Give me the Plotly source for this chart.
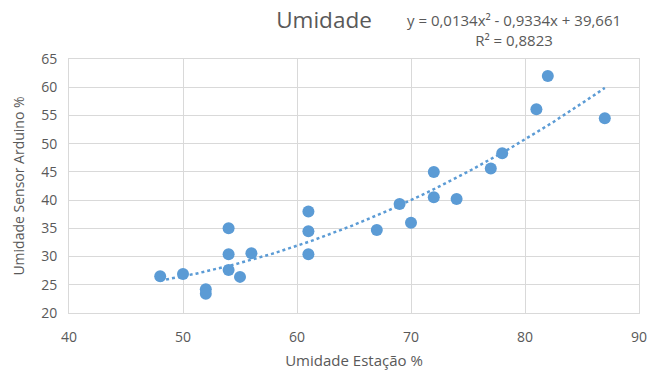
import numpy as np
import plotly.graph_objects as go

estacao = [48, 50, 52, 52, 54, 54, 54, 55, 56, 61, 61, 61, 67, 69, 70, 72, 72, 74, 77, 78, 81, 82, 87]
sensor = [26.5, 26.9, 24.2, 23.4, 35.0, 30.4, 27.6, 26.4, 30.6, 38.0, 34.5, 30.4, 34.7, 39.3, 36.0, 45.0, 40.5, 40.2, 45.6, 48.3, 56.1, 62.0, 54.5]
trend_coef = [0.0134, -0.9334, 39.661]
x_ticks = [40, 50, 60, 70, 80, 90]
y_ticks = [20, 25, 30, 35, 40, 45, 50, 55, 60, 65]

FONT = "Open Sans"
GRAY = "#595959"
BLUE = "#5b9bd5"

xt = np.linspace(min(estacao), max(estacao), 200)
yt = np.polyval(trend_coef, xt)

fig = go.Figure()
fig.add_trace(go.Scatter(x=xt, y=yt, mode="lines",
                         line=dict(color=BLUE, width=2.5, dash="dot"),
                         hoverinfo="skip", showlegend=False))
fig.add_trace(go.Scatter(x=estacao, y=sensor, mode="markers",
                         marker=dict(color=BLUE, size=12, line=dict(width=0)),
                         showlegend=False))

fig.update_layout(
    width=648, height=372,
    margin=dict(l=69, r=9, t=59, b=59),
    paper_bgcolor="white", plot_bgcolor="white",
    hovermode=False,
    font=dict(family=FONT, color=GRAY, size=14),
    title=dict(text="Umidade", x=324/648, xanchor="center", y=1 - 20/372, yanchor="middle",
               font=dict(size=22.5, color=GRAY, family=FONT)),
    xaxis=dict(range=[40, 90], tickvals=x_ticks, showgrid=True, gridcolor="#d9d9d9", gridwidth=1,
               zeroline=False, showline=True, linecolor="#d9d9d9", mirror=True,
               ticks="", tickfont=dict(size=14, color=GRAY), automargin=False,
               ticklabelstandoff=11, ticklabeloverflow="allow",
               title=dict(text="Umidade Estação %", font=dict(size=15, color=GRAY), standoff=10)),
    yaxis=dict(range=[20, 65], tickvals=y_ticks, showgrid=True, gridcolor="#d9d9d9", gridwidth=1,
               zeroline=False, showline=True, linecolor="#d9d9d9", mirror=True,
               ticks="", tickfont=dict(size=14, color=GRAY), automargin=False,
               ticklabelstandoff=8, ticklabeloverflow="allow",
               title=dict(text="Umidade Sensor Arduino %", font=dict(size=14, color=GRAY), standoff=13)),
)
fig.add_annotation(text="y = 0,0134x² - 0,9334x + 39,661<br>R² = 0,8823",
                   xref="paper", yref="paper", x=(514-69)/570, y=1 + 29/254,
                   xanchor="center", yanchor="middle", showarrow=False, align="center",
                   font=dict(size=15, color=GRAY, family=FONT))

fig.write_html("out.html", config={"displayModeBar": False, "staticPlot": True},
               post_script="document.body.style.margin='0';document.body.style.overflow='hidden';")
